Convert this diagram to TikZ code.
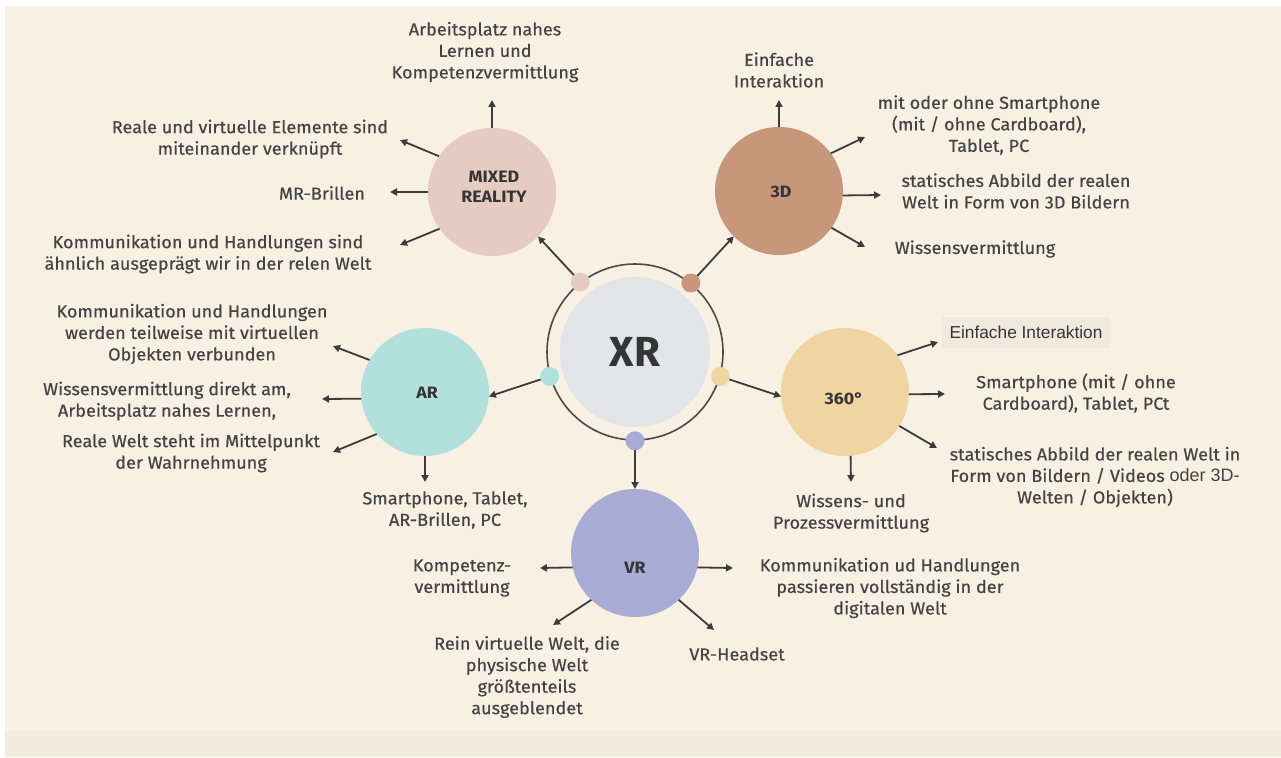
\documentclass[tikz,border=0pt]{standalone}
\usepackage{fontspec}
\setmainfont[FakeBold=0.45,FakeStretch=1.04]{Fira Sans}
\newfontfamily\arialf{Liberation Sans}
\newfontfamily\labf[FakeStretch=1.08]{Fira Sans}
\newfontfamily\xrf{Fira Sans}
\usetikzlibrary{arrows.meta}
\definecolor{bg}{HTML}{F7F0E3}
\definecolor{band}{HTML}{F3ECDC}
\definecolor{boxc}{HTML}{F0E9DE}
\definecolor{txt}{HTML}{444444}
\definecolor{txtd}{HTML}{353535}
\definecolor{arrc}{HTML}{3C3C3C}
\definecolor{ringc}{HTML}{4A4A4A}
\definecolor{xrc}{HTML}{E2E4E8}
\definecolor{mrc}{HTML}{E6CBC3}
\definecolor{tdc}{HTML}{C8967A}
\definecolor{arc}{HTML}{B2E0DC}
\definecolor{tsc}{HTML}{F0D5A3}
\definecolor{vrc}{HTML}{A8ACD4}
\begin{document}
\begin{tikzpicture}[x=1pt,y=-1pt,
  sat/.style={circle, minimum size=128pt, inner sep=0pt, outer sep=0pt},
  dotn/.style={circle, minimum size=19pt, inner sep=0pt, outer sep=0pt},
  lbl/.style={font=\fontsize{17.4}{21.5}\selectfont, text=txt, align=center, inner sep=0pt},
  satl/.style={font=\labf\bfseries\fontsize{16.5}{19.5}\selectfont, text=txtd, align=center, inner sep=0pt},
  arr/.style={draw=arrc, line width=1.8pt, -{Triangle[length=7pt,width=7pt]}}]
\useasboundingbox (0,0) rectangle (1281,757);
\fill[white] (0,0) rectangle (1281,757);
\fill[bg] (5,6) rectangle (1281,731);
\fill[band] (5,731) rectangle (1281,757);

% centre
\node[circle, draw=ringc, line width=1.6pt, minimum size=176pt, inner sep=0pt] (ring) at (635,352) {};
\node[circle, fill=xrc, minimum size=150pt, inner sep=0pt] (xr) at (635,352) {};
\node[font=\xrf\bfseries\fontsize{42}{44}\selectfont, text=txtd, inner sep=0pt] (xrl) at (635,352) {XR};
\node[dotn, fill=mrc] (dmr) at (ring.128) {};
\node[dotn, fill=tdc] (dtd) at (ring.51) {};
\node[dotn, fill=arc] (dar) at (ring.196) {};
\node[dotn, fill=tsc] (dts) at (ring.-16) {};
\node[dotn, fill=vrc] (dvr) at (ring.-90) {};

% satellites
\node[sat, fill=mrc] (mr) at (492,192) {};
\node[satl] (mrl) at (494,187) {MIXED\\REALITY};
\node[sat, fill=tdc] (td) at (779,191) {};
\node[satl] (tdl) at (781,192) {3D};
\node[sat, fill=arc] (ar) at (425,392) {};
\node[satl] (arl) at (427,393) {AR};
\node[sat, fill=tsc] (ts) at (845,392) {};
\node[satl] (tsl) at (844,399) {360°};
\node[sat, fill=vrc] (vr) at (635,553) {};
\node[satl] (vrl) at (635,568) {VR};

% hub arrows
\draw[arr] (dmr) -- (mr.-44);
\draw[arr] (dtd) -- (td.-135);
\draw[arr] (dar) -- (ar.-4);
\draw[arr] (dts) -- (ts.184);
\draw[arr] (dvr) -- (vr.north);

% MR texts
\node[lbl] (t1) at (485,52) {Arbeitsplatz nahes\\Lernen und\\Kompetenzvermittlung};
\node[lbl] (t2) at (250,139) {Reale und virtuelle Elemente sind\\miteinander verknüpft};
\node[lbl] (t3) at (322,193) {MR-Brillen};
\node[lbl] (t4) at (208,254) {Kommunikation und Handlungen sind\\ähnlich ausgeprägt wir in der relen Welt};
\coordinate (a1) at (492,100);
\coordinate (a2) at (400,140);
\coordinate (a3) at (390,192);
\coordinate (a4) at (400,245);
\draw[arr] (mr.north) -- (a1);
\draw[arr] (mr.146) -- (a2);
\draw[arr] (mr.west) -- (a3);
\draw[arr] (mr.215) -- (a4);

% 3D texts
\node[lbl] (t5) at (779,70) {Einfache\\Interaktion};
\node[lbl] (t6) at (989,125) {mit oder ohne Smartphone\\(mit / ohne Cardboard),\\Tablet, PC};
\node[lbl] (t7) at (1016,191) {statisches Abbild der realen\\Welt in Form von 3D Bildern};
\node[lbl] (t8) at (975,249) {Wissensvermittlung};
\coordinate (b1) at (779,100);
\coordinate (b2) at (865,137);
\coordinate (b3) at (881,195);
\coordinate (b4) at (865,247);
\draw[arr] (td.north) -- (b1);
\draw[arr] (td.36) -- (b2);
\draw[arr] (td.-4) -- (b3);
\draw[arr] (td.-35) -- (b4);

% AR texts
\node[lbl] (t9) at (192,334) {Kommunikation und Handlungen\\werden teilweise mit virtuellen\\Objekten verbunden};
\node[lbl] (t10) at (167,401) {Wissensvermittlung direkt am,\\Arbeitsplatz nahes Lernen,};
\node[lbl] (t11) at (191,453) {Reale Welt steht im Mittelpunkt\\der Wahrnehmung};
\node[lbl] (t12) at (445,510) {Smartphone, Tablet,\\AR-Brillen, PC};
\coordinate (c1) at (333,346);
\coordinate (c2) at (322,399);
\coordinate (c3) at (333,452);
\coordinate (c4) at (425,482);
\draw[arr] (ar.150) -- (c1);
\draw[arr] (ar.186) -- (c2);
\draw[arr] (ar.221) -- (c3);
\draw[arr] (ar.south) -- (c4);

% 360 texts
\node[fill=boxc, minimum width=168pt, minimum height=31pt, inner sep=0pt,
      font=\arialf\fontsize{17.3}{20}\selectfont, text=txtd] (t13) at (1026,332.5) {Einfache Interaktion};
\node[lbl] (t14) at (1076,393) {Smartphone (mit / ohne\\Cardboard), Tablet, PCt};
\node[lbl] (t15) at (1095,477) {statisches Abbild der realen Welt in\\Form von Bildern / Videos {\arialf\fontsize{18}{21.5}\selectfont oder 3D-}\\Welten / Objekten)};
\node[lbl] (t16) at (851,513) {Wissens- und\\Prozessvermittlung};
\coordinate (d1) at (938,342);
\coordinate (d2) at (945,394);
\coordinate (d3) at (937,448);
\coordinate (d4) at (851,482);
\draw[arr] (ts.35) -- (d1);
\draw[arr] (ts.-2) -- (d2);
\draw[arr] (ts.-32) -- (d3);
\draw[arr] (ts.-85) -- (d4);

% VR texts
\node[lbl] (t17) at (462,578) {Kompetenz-\\vermittlung};
\node[lbl] (t18) at (890,588) {Kommunikation ud Handlungen\\passieren vollständig in der\\digitalen Welt};
\node[lbl] (t19) at (527,677) {Rein virtuelle Welt, die\\physische Welt\\größtenteils\\ausgeblendet};
\node[lbl] (t20) at (737,654) {VR-Headset};
\coordinate (e1) at (540,568);
\coordinate (e2) at (733,568);
\coordinate (e3) at (553,625);
\coordinate (e4) at (714,630);
\draw[arr] (vr.193) -- (e1);
\draw[arr] (vr.-13) -- (e2);
\draw[arr] (vr.227) -- (e3);
\draw[arr] (vr.-47) -- (e4);
\end{tikzpicture}
\end{document}
